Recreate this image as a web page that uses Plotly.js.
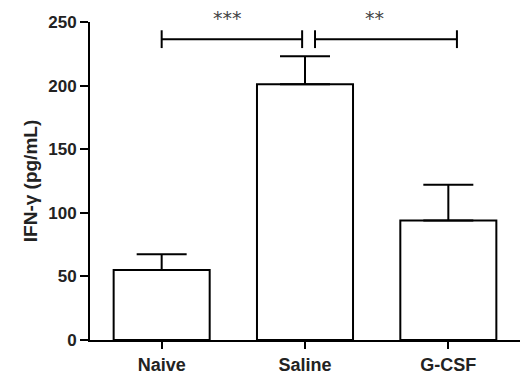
<!DOCTYPE html>
<html>
<head>
<meta charset="utf-8">
<script src="https://cdn.plot.ly/plotly-3.0.1.min.js"></script>
<style>html,body{margin:0;padding:0;background:#fff;}#chart{width:520px;height:380px;}</style>
</head>
<body>
<div id="chart"></div>
<script>
const categories = ["Naive", "Saline", "G-CSF"];
const means = [55, 201, 94];
const errorsUp = [12.5, 22, 28];
const yTickValues = [0, 50, 100, 150, 200, 250];

// significance brackets (category index positions, y value, label)
const bracketStarts = [0, 1.07];
const bracketEnds = [0.98, 2.06];
const bracketLevel = [236.5, 236.5];
const bracketLabels = ["***", "**"];

const xIdx = categories.map((c, i) => i);
const FONT = "Liberation Sans, Arial, sans-serif";

const traces = [{
  type: "bar",
  x: xIdx,
  y: means,
  width: 0.67,
  marker: { color: "#ffffff", line: { color: "#000000", width: 2 } },
  error_y: {
    type: "data", symmetric: false,
    array: errorsUp, arrayminus: errorsUp.map(() => 0),
    color: "#000000", thickness: 2, width: 25
  },
  hoverinfo: "skip"
}];

const shapes = [];
const annotations = [];
bracketStarts.forEach((s, i) => {
  const e = bracketEnds[i], yv = bracketLevel[i];
  shapes.push({ type: "line", xref: "x", yref: "y", x0: s, x1: e, y0: yv, y1: yv, line: { color: "#000", width: 2 } });
  shapes.push({ type: "line", xref: "x", yref: "y", x0: s, x1: s, y0: yv - 7, y1: yv + 7, line: { color: "#000", width: 2 } });
  shapes.push({ type: "line", xref: "x", yref: "y", x0: e, x1: e, y0: yv - 7, y1: yv + 7, line: { color: "#000", width: 2 } });
  annotations.push({
    xref: "x", yref: "y", x: (s + e) / 2 - (i === 0 ? 0.03 : 0.08), y: yv,
    yshift: 21,
    text: bracketLabels[i], showarrow: false,
    font: { family: "DejaVu Sans, sans-serif", size: 19, color: "#444" }
  });
});

const layout = {
  width: 520, height: 380,
  margin: { l: 90, r: 0, t: 22, b: 40, pad: 0 },
  paper_bgcolor: "#fff", plot_bgcolor: "#fff",
  showlegend: false,
  xaxis: {
    range: [-0.5, 2.5],
    tickvals: xIdx, ticktext: categories,
    showline: true, linecolor: "#000", linewidth: 2,
    ticks: "outside", ticklen: 7, tickwidth: 2, tickcolor: "#000",
    showgrid: false, zeroline: false,
    tickfont: { family: FONT, size: 18, color: "#222", weight: "bold" }
  },
  yaxis: {
    range: [0, 250],
    tickvals: yTickValues,
    showline: true, linecolor: "#000", linewidth: 2,
    ticks: "outside", ticklen: 8, tickwidth: 2, tickcolor: "#000",
    showgrid: false, zeroline: false,
    tickfont: { family: FONT, size: 17, color: "#222", weight: "bold" },
    title: { text: "IFN-γ (pg/mL)", standoff: 6,
      font: { family: FONT, size: 19, color: "#222", weight: "bold" } }
  },
  shapes: shapes,
  annotations: annotations
};

Plotly.newPlot("chart", traces, layout, { staticPlot: true, displayModeBar: false });
</script>
</body>
</html>
